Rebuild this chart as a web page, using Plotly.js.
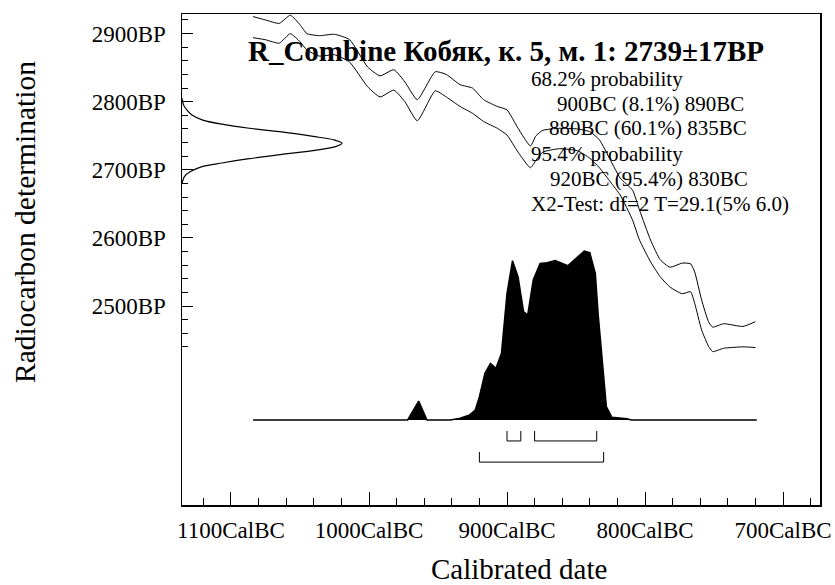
<!DOCTYPE html>
<html>
<head>
<meta charset="utf-8">
<script src="https://cdn.plot.ly/plotly-3.0.1.min.js"></script>
<style>
  html, body { margin: 0; padding: 0; background: #fff; }
  #chart { width: 835px; height: 585px; }
</style>
</head>
<body>
<div id="chart"></div>
<script>
// ---------------- DATA ----------------
// Calibration curve envelope (years BC, radiocarbon BP)
const curveYearsBC = [1084,1075,1065,1057,1050,1045,1036,1025,1014,1001,992,982,974,965,952,944,934,925,917,907,900,892,883,879,874,862,849,840,833,825,818,809,804,796,789,782,773,767,764,759,754,751,743,729,720];
const curveUpperBP = [2925,2920,2915,2927,2913,2900,2897,2899,2891,2851,2838,2847,2829,2803,2844,2840,2825,2820,2803,2793,2788,2761,2735,2750,2758,2761,2760,2756,2744,2714,2688,2670,2641,2597,2568,2557,2563,2562,2550,2509,2477,2469,2474,2470,2477];
const curveLowerBP = [2894,2891,2886,2900,2888,2876,2867,2869,2858,2822,2807,2817,2800,2772,2816,2807,2793,2783,2771,2761,2751,2726,2703,2714,2726,2731,2728,2717,2703,2682,2663,2626,2597,2565,2543,2528,2518,2521,2504,2465,2441,2433,2438,2440,2439];

// Radiocarbon measurement likelihood (BP, relative probability)
const rcBP   = [2805,2795,2788,2781,2773,2767,2761,2756,2749,2744,2739,2734,2729,2722,2716,2710,2705,2697,2690,2680];
const rcProb = [0,0.01,0.03,0.06,0.13,0.25,0.42,0.61,0.82,0.95,1.0,0.96,0.84,0.6,0.41,0.25,0.13,0.05,0.015,0];

// Calibrated date distribution (years BC, relative probability)
const densYearsBC = [1084,972,964,958,941,934,927,923,920,916,912,908,904,900,896,892,888,885,881,876,871,865,856,844,840,836,834,830,828,824,818,813,810,719];
const densProb    = [0,0,0.112,0,0,0.01,0.03,0.059,0.138,0.276,0.335,0.306,0.395,0.75,0.943,0.848,0.641,0.621,0.828,0.927,0.931,0.943,0.913,1.0,0.99,0.868,0.631,0.276,0.079,0.016,0.01,0.008,0,0];

// Probability ranges (years BC)
const range68From = [900, 880];
const range68To   = [890, 835];
const range95From = [920];
const range95To   = [830];

// Tick labels
const xTickYearsBC = [1100, 1000, 900, 800, 700];
const xTickText = ['1100CalBC','1000CalBC','900CalBC','800CalBC','700CalBC'];
const yTickBP = [2500, 2600, 2700, 2800, 2900];
const yTickText = ['2500BP','2600BP','2700BP','2800BP','2900BP'];

// Texts
const titleText = 'R_Combine Кобяк, к. 5, м. 1: 2739±17BP';
const infoLines = [
  '68.2% probability',
  '900BC (8.1%) 890BC',
  '880BC (60.1%) 835BC',
  '95.4% probability',
  '920BC (95.4%) 830BC',
  'X2-Test: df=2 T=29.1(5% 6.0)'
];
const xTitle = 'Calibrated date';
const yTitle = 'Radiocarbon determination';

// ---------------- LAYOUT CONSTANTS ----------------
const FONT = '"Liberation Serif", "Times New Roman", serif';
const W = 835, H = 585;
const M = {l: 182, r: 15, t: 14, b: 80};
const plotW = W - M.l - M.r, plotH = H - M.t - M.b;
const toNeg = a => a.map(v => -v);
const px2paperX = px => (px - M.l) / plotW;
const px2paperY = py => (H - M.b - py) / plotH;

// bracket levels on density axis (y2)
const lvl68 = {bar: -0.124, top: -0.065};
const lvl95 = {bar: -0.249, top: -0.189};

function bracketTrace(from, to, lvl) {
  const xs = [], ys = [];
  for (let i = 0; i < from.length; i++) {
    xs.push(-from[i], -from[i], -to[i], -to[i], null);
    ys.push(lvl.top, lvl.bar, lvl.bar, lvl.top, null);
  }
  return {x: xs, y: ys, xaxis: 'x', yaxis: 'y2', mode: 'lines',
          line: {color: '#000', width: 1}, hoverinfo: 'skip', showlegend: false};
}

const traces = [
  {x: toNeg(curveYearsBC), y: curveUpperBP, mode: 'lines', line: {color: '#000', width: 1, shape: 'spline', smoothing: 0.5}, showlegend: false, hoverinfo: 'skip'},
  {x: toNeg(curveYearsBC), y: curveLowerBP, mode: 'lines', line: {color: '#000', width: 1, shape: 'spline', smoothing: 0.5}, showlegend: false, hoverinfo: 'skip'},
  {x: rcProb, y: rcBP, xaxis: 'x2', yaxis: 'y', mode: 'lines', line: {color: '#000', width: 1.2, shape: 'spline', smoothing: 0.8}, showlegend: false, hoverinfo: 'skip'},
  {x: toNeg(densYearsBC), y: densProb, xaxis: 'x', yaxis: 'y2', mode: 'lines', fill: 'tozeroy', fillcolor: '#000', line: {color: '#000', width: 1.5}, showlegend: false, hoverinfo: 'skip'},
  bracketTrace(range68From, range68To, lvl68),
  bracketTrace(range95From, range95To, lvl95)
];

const infoX = [529, 555, 547, 529, 548, 529];
const infoY = [79, 104, 128, 154, 179, 204];
const annotations = infoLines.map((t, i) => ({
  text: t, xref: 'paper', yref: 'paper',
  x: px2paperX(infoX[i]), y: px2paperY(infoY[i]),
  xanchor: 'left', yanchor: 'middle', showarrow: false,
  font: {family: FONT, size: 21, color: '#000'}
}));
// axis titles placed as in the reference
annotations.push({
  text: xTitle, xref: 'paper', yref: 'paper',
  x: px2paperX(519), y: px2paperY(569), xanchor: 'center', yanchor: 'middle',
  showarrow: false, font: {family: FONT, size: 29, color: '#000'}
});
annotations.push({
  text: yTitle, xref: 'paper', yref: 'paper', textangle: -90,
  x: px2paperX(25), y: px2paperY(222), xanchor: 'center', yanchor: 'middle',
  showarrow: false, font: {family: FONT, size: 29.5, color: '#000'}
});

function minorVals(a, b, step) { const v = []; for (let t = a; t <= b; t += step) v.push(t); return v; }

const layout = {
  width: W, height: H,
  margin: M,
  paper_bgcolor: '#fff', plot_bgcolor: '#fff',
  showlegend: false,
  title: {
    text: '<b>' + titleText + '</b>',
    font: {family: FONT, size: 29, color: '#000'},
    xref: 'paper', x: px2paperX(506), xanchor: 'center',
    yref: 'container', y: 1 - 51 / H, yanchor: 'middle'
  },
  xaxis: {
    range: [-1135.5, -673.2], fixedrange: true,
    tickmode: 'array', tickvals: toNeg(xTickYearsBC), ticktext: xTickText,
    ticks: 'inside', ticklen: 13, tickwidth: 1, tickcolor: '#000',
    minor: {tickmode: 'array', tickvals: minorVals(-1120, -680, 20), ticks: 'inside', ticklen: 7, tickwidth: 1, tickcolor: '#000'},
    showline: true, linecolor: '#000', linewidth: 1.5, mirror: true,
    showgrid: false, zeroline: false,
    tickfont: {family: FONT, size: 23, color: '#000'},
    ticklabelstandoff: 4
  },
  yaxis: {
    range: [2207.8, 2928.8], fixedrange: true,
    tickmode: 'array', tickvals: yTickBP, ticktext: yTickText,
    ticks: 'inside', ticklen: 11, tickwidth: 1, tickcolor: '#000',
    minor: {tickmode: 'array', tickvals: minorVals(2440, 2920, 20), ticks: 'inside', ticklen: 6, tickwidth: 1, tickcolor: '#000'},
    showline: true, linecolor: '#000', linewidth: 1.5, mirror: true,
    showgrid: false, zeroline: false,
    tickfont: {family: FONT, size: 23, color: '#000'},
    ticklabelstandoff: 10
  },
  xaxis2: {overlaying: 'x', range: [0, plotW / 160], visible: false, fixedrange: true},
  yaxis2: {overlaying: 'y', range: [-(H - M.b - 420) / 169, (420 - M.t) / 169], visible: false, fixedrange: true},
  annotations: annotations
};

Plotly.newPlot('chart', traces, layout, {staticPlot: true, displayModeBar: false});
</script>
</body>
</html>
